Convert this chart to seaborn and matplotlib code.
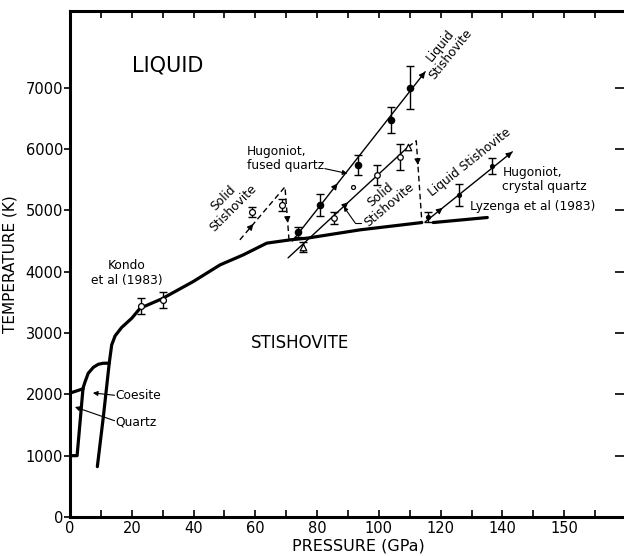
import matplotlib
matplotlib.use("Agg")
import matplotlib.pyplot as plt
import seaborn as sns
import pandas as pd
import numpy as np

# ---------------- data ----------------
quartz_melt_P = [0.0, 4.2]
quartz_melt_T = [2020, 2090]
quartz_coesite_P = [0.0, 2.3, 4.2]
quartz_coesite_T = [1000, 1000, 2090]
coesite_melt_P = [4.1, 4.9, 5.9, 7.6, 9.2, 10.8, 12.7]
coesite_melt_T = [2083, 2207, 2344, 2442, 2491, 2507, 2507]
stish_P = [8.85, 10.8, 12.7, 13.5, 14.6, 16.7, 20.0, 22.7, 29.7, 39.9, 48.6,
           56.1, 63.7, 71.3, 76.7, 93.9, 113.9]
stish_T = [821, 1636, 2507, 2806, 2953, 3089, 3241, 3404, 3556, 3839, 4111,
           4274, 4465, 4519, 4546, 4682, 4801]
lyzenga_P = [117.6, 135.1]
lyzenga_T = [4801, 4883]

kondo_P = [23.0, 30.0]
kondo_T = [3442, 3540]
kondo_err = [125, 135]

# fused quartz Hugoniot, low-pressure solid stishovite branch (dashed)
fq_lo_P = [55.0, 69.6, 70.9]
fq_lo_T = [4519, 5383, 4519]
fq_lo_pts_P = [59.0, 68.5]
fq_lo_pts_T = [4976, 5090]
fq_lo_err = [80, 100]

# fused quartz Hugoniot, liquid stishovite branch
fq_liq_P = [72.0, 115.0]
fq_liq_T = [4500, 7260]
fq_liq_pts_P = [73.9, 81.0, 93.3, 104.0, 110.0]
fq_liq_pts_T = [4649, 5090, 5742, 6476, 6998]
fq_liq_err = [80, 180, 160, 215, 350]

# fused quartz Hugoniot, solid stishovite branch
fq_sol_P = [70.6, 109.5]
fq_sol_T = [4225, 6036]
fq_drop_P = [109.5, 112.1, 113.9]
fq_drop_T = [6036, 6134, 4818]
fq_sol_circ_P = [85.5, 99.3, 106.9]
fq_sol_circ_T = [4870, 5580, 5870]
fq_sol_circ_err = [95, 160, 210]
fq_sol_tri_P = [75.5, 109.5]
fq_sol_tri_T = [4405, 6036]
fq_sol_tri_err = [80, 0]
fq_single_P = [91.7]
fq_single_T = [5383]

# crystal quartz Hugoniot
cq_P = [115.0, 143.2]
cq_T = [4812, 5954]
cq_pts_P = [116.0, 126.0, 136.7]
cq_pts_T = [4894, 5253, 5726]
cq_err = [80, 180, 130]

x_ticks = [0, 20, 40, 60, 80, 100, 120, 140, 160]
x_ticklabels = ["0", "20", "40", "60", "80", "100", "120", "140", "150"]
y_ticks = [0, 1000, 2000, 3000, 4000, 5000, 6000, 7000]
y_ticklabels = ["0", "1000", "2000", "3000", "4000", "5000", "6000", "7000"]

# ---------------- style ----------------
sns.set_theme(style="white")
plt.rcParams["font.family"] = ["DejaVu Sans"]
plt.rcParams["text.color"] = "black"
plt.rcParams["axes.labelcolor"] = "black"
plt.rcParams["xtick.color"] = "black"
plt.rcParams["ytick.color"] = "black"

fig = plt.figure(figsize=(6.24, 5.56), dpi=100)
ax = fig.add_axes([70 / 624, 39 / 556, 556 / 624, 506 / 556])


def line(P, T, lw=1.0, ls="-"):
    df = pd.DataFrame({"P": P, "T": T})
    sns.lineplot(data=df, x="P", y="T", sort=False, estimator=None, ax=ax,
                 color="black", lw=lw, linestyle=ls,
                 dashes=False if ls == "-" else True)
    if ls != "-":
        ax.lines[-1].set_dashes([4, 2.5])


def head(x0, y0, x1, y1, frac=1.0, ms=9):
    xa = x0 + (x1 - x0) * frac
    ya = y0 + (y1 - y0) * frac
    dx = (x1 - x0) * 0.03
    dy = (y1 - y0) * 0.03
    ax.annotate("", xy=(xa, ya), xytext=(xa - dx, ya - dy),
                arrowprops=dict(arrowstyle="-|>", color="black", lw=0.8,
                                mutation_scale=ms, shrinkA=0, shrinkB=0))


THICK = 2.3
line(quartz_melt_P, quartz_melt_T, THICK)
line(quartz_coesite_P, quartz_coesite_T, THICK)
line(coesite_melt_P, coesite_melt_T, THICK)
line(stish_P, stish_T, THICK)
line(lyzenga_P, lyzenga_T, THICK)

line(fq_lo_P, fq_lo_T, 1.0, "--")
line(fq_liq_P, fq_liq_T, 1.0)
line(fq_sol_P, fq_sol_T, 1.0)
line(fq_drop_P, fq_drop_T, 1.0, "--")
line(cq_P, cq_T, 1.0)

# arrowheads along lines
head(fq_liq_P[0], fq_liq_T[0], fq_liq_P[1], fq_liq_T[1], 0.34)
head(fq_liq_P[0], fq_liq_T[0], fq_liq_P[1], fq_liq_T[1], 1.0)
head(fq_sol_P[0], fq_sol_T[0], fq_sol_P[1], fq_sol_T[1], 0.5)
head(cq_P[0], cq_T[0], cq_P[1], cq_T[1], 0.2)
head(cq_P[0], cq_T[0], cq_P[1], cq_T[1], 1.0)
head(fq_lo_P[0], fq_lo_T[0], fq_lo_P[1], fq_lo_T[1], 0.3)
head(fq_lo_P[1], fq_lo_T[1], fq_lo_P[2], fq_lo_T[2], 0.68)
head(fq_drop_P[1], fq_drop_T[1], fq_drop_P[2], fq_drop_T[2], 0.3)

# error bars and points
eb = dict(fmt="none", ecolor="black", elinewidth=1.0, capsize=3, capthick=1.0)
ax.errorbar(kondo_P, kondo_T, yerr=kondo_err, **eb)
ax.errorbar(fq_lo_pts_P, fq_lo_pts_T, yerr=fq_lo_err, **eb)
ax.errorbar(fq_liq_pts_P, fq_liq_pts_T, yerr=fq_liq_err, **eb)
ax.errorbar(fq_sol_circ_P, fq_sol_circ_T, yerr=fq_sol_circ_err, **eb)
ax.errorbar(fq_sol_tri_P[:1], fq_sol_tri_T[:1], yerr=fq_sol_tri_err[:1], **eb)
ax.errorbar(cq_pts_P, cq_pts_T, yerr=cq_err, **eb)

sns.scatterplot(x=kondo_P, y=kondo_T, ax=ax, marker="o", s=18,
                facecolor="white", edgecolor="black", linewidth=0.9, zorder=5)
sns.scatterplot(x=fq_lo_pts_P, y=fq_lo_pts_T, ax=ax, marker="o", s=18,
                facecolor="white", edgecolor="black", linewidth=0.9, zorder=5)
sns.scatterplot(x=fq_liq_pts_P, y=fq_liq_pts_T, ax=ax, marker="o", s=30,
                color="black", linewidth=0, zorder=5)
sns.scatterplot(x=fq_sol_circ_P, y=fq_sol_circ_T, ax=ax, marker="o", s=16,
                facecolor="white", edgecolor="black", linewidth=0.9, zorder=5)
sns.scatterplot(x=fq_sol_tri_P, y=fq_sol_tri_T, ax=ax, marker="^", s=22,
                facecolor="white", edgecolor="black", linewidth=0.9, zorder=5)
sns.scatterplot(x=fq_single_P, y=fq_single_T, ax=ax, marker="o", s=8,
                facecolor="white", edgecolor="black", linewidth=0.9, zorder=5)
sns.scatterplot(x=cq_pts_P, y=cq_pts_T, ax=ax, marker="o", s=14,
                color="black", linewidth=0, zorder=5)

# ---------------- axes ----------------
ax.set_xlim(0, 180)
ax.set_ylim(0, 8250)
ax.set_xticks(range(0, 180, 10))
ax.set_xticklabels([x_ticklabels[x_ticks.index(v)] if v in x_ticks else ""
                    for v in range(0, 180, 10)])
ax.set_yticks(y_ticks)
ax.set_yticklabels(y_ticklabels)
for s in ["left", "bottom", "top"]:
    ax.spines[s].set_linewidth(2.2)
    ax.spines[s].set_color("black")
ax.spines["right"].set_visible(False)
ax.tick_params(axis="x", which="major", direction="in", length=5, width=1.2,
               top=True, bottom=True, labelsize=10.5, pad=3, colors="black")
ax.tick_params(axis="y", which="major", direction="out", length=4, width=1.2,
               left=True, labelsize=10.5, pad=1, colors="black")
sec = ax.secondary_yaxis("right")
sec.set_yticks(y_ticks)
sec.tick_params(direction="in", length=8, width=1.2, labelright=False)
sec.spines["right"].set_visible(False)

ax.set_xlabel("PRESSURE (GPa)", fontsize=11.5, color="black")
ax.xaxis.set_label_coords(0.518, -0.042)
ax.set_ylabel("TEMPERATURE (K)", fontsize=11, color="black")
ax.yaxis.set_label_coords(-0.094, 0.5)

# ---------------- labels ----------------
fs = 8.8
ax.text(31.7, 7357, "LIQUID", fontsize=15, ha="center", va="center")
ax.text(74.5, 2838, "STISHOVITE", fontsize=12, ha="center", va="center")
ax.text(18.5, 3980, "Kondo\net al (1983)", fontsize=fs, ha="center",
        va="center", linespacing=1.15)
ax.text(14.6, 1974, "Coesite", fontsize=fs, ha="left", va="center")
ax.annotate("", xy=(7.4, 2023), xytext=(14.4, 1985),
            arrowprops=dict(arrowstyle="-|>", color="black", lw=0.8,
                            mutation_scale=7, shrinkA=0, shrinkB=0))
ax.text(14.6, 1550, "Quartz", fontsize=fs, ha="left", va="center")
ax.annotate("", xy=(1.6, 1794), xytext=(14.4, 1570),
            arrowprops=dict(arrowstyle="-|>", color="black", lw=0.8,
                            mutation_scale=7, shrinkA=0, shrinkB=0))
ax.text(57.3, 5848, "Hugoniot,\nfused quartz", fontsize=fs, ha="left",
        va="center", linespacing=1.15)
ax.annotate("", xy=(89.8, 5600), xytext=(82.5, 5680),
            arrowprops=dict(arrowstyle="-|>", color="black", lw=0.8,
                            mutation_scale=7, shrinkA=0, shrinkB=0))
ax.text(51.2, 5122, "Solid\nStishovite", fontsize=fs, ha="center",
        va="center", rotation=45, rotation_mode="anchor", linespacing=1.1)
ax.text(121.5, 7618, "Liquid\nStishovite", fontsize=fs, ha="center",
        va="center", rotation=51, rotation_mode="anchor", linespacing=1.1)
ax.text(102.0, 5171, "Solid\nStishovite", fontsize=fs, ha="center",
        va="center", rotation=40, rotation_mode="anchor", linespacing=1.1)
ax.text(129.3, 5790, "Liquid Stishovite", fontsize=fs, ha="center",
        va="center", rotation=38.5, rotation_mode="anchor")
ax.text(140.0, 5506, "Hugoniot,\ncrystal quartz", fontsize=fs, ha="left",
        va="center", linespacing=1.15)
ax.text(129.6, 5057, "Lyzenga et al (1983)", fontsize=fs, ha="left",
        va="center")
# bracket pointing to solid branch
ax.annotate("", xy=(88.6, 5060), xytext=(92.3, 4796),
            arrowprops=dict(arrowstyle="-|>", color="black", lw=0.8,
                            mutation_scale=6, shrinkA=0, shrinkB=0))
ax.plot([92.3, 94.3], [4796, 4796], color="black", lw=0.8)

fig.savefig("out.png", dpi=100)
